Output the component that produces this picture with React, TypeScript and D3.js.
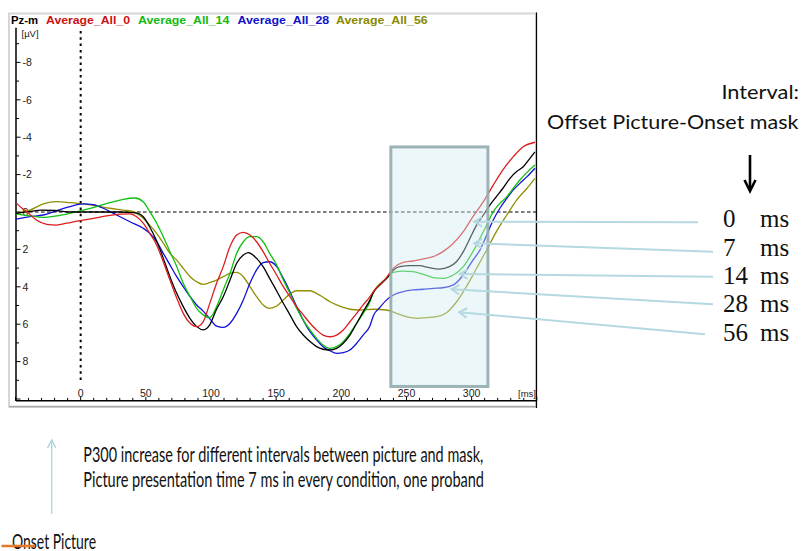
import React from "react";
import * as d3 from "d3";

// ---------- data ----------
const xDomain: [number, number] = [-50, 350];
const yDomain: [number, number] = [-10, 10];
const xTickLabels = [0, 50, 100, 150, 200, 250, 300];
const xMinorTicks = d3.range(-50, 351, 10);
const yTickLabels = [-8, -6, -4, -2, 0, 2, 4, 6, 8];
const yMinorTicks = d3.range(-9, 11, 1);
const channelName = "Pz-m";
const legendNames = ["Average_All_0", "Average_All_14", "Average_All_28", "Average_All_56"];
const legendColors = ["#cc1111", "#11bb11", "#1111cc", "#8a8a00"];

// [time ms, amplitude µV]
const seriesRed: [number, number][] = [
  [-49, -0.45], [-45, -0.2], [-41, 0], [-34, 0.43], [-26, 0.66], [-18.4, 0.7], [-10.7, 0.6], [-0.5, 0.46],
  [9.7, 0.34], [20, 0.21], [30, 0.11], [37.8, 0.1], [43, 0.25], [48, 0.6], [53, 1.14], [58.3, 1.76],
  [63.4, 2.66], [68.5, 3.64], [73.7, 4.6], [78.7, 5.42], [84, 5.95], [89, 6.13], [94, 5.87], [99, 4.9],
  [104.3, 3.81], [109.4, 2.92], [114.6, 1.85], [119.7, 1.23], [124.8, 1.09], [129.9, 1.23], [135, 1.59],
  [140, 2.12], [145, 2.74], [150.4, 3.37], [155.5, 3.99], [160.6, 4.53], [165.7, 5.06], [170.8, 5.5],
  [176, 5.95], [181, 6.31], [186, 6.58], [191.3, 6.67], [196.4, 6.58], [201.5, 6.31], [206.6, 5.87],
  [211.8, 5.42], [216.8, 4.97], [222, 4.53], [224.6, 4.26], [234.8, 3.5], [240, 3.0], [247.5, 2.69],
  [255, 2.62], [263, 2.51], [270.5, 2.39], [278, 2.12], [286, 1.67], [293.6, 1.05], [301, 0.25],
  [309, -0.55], [316.6, -1.44], [324, -2.25], [332, -2.96], [339.6, -3.49], [348.6, -3.73],
];
const seriesBlack: [number, number][] = [
  [-50, 0.07], [-40, -0.02], [-30, -0.1], [-20, -0.08], [-10, 0], [0, 0], [10, 0], [20, 0], [30, 0],
  [40, 0.03], [45, 0.1], [48, 0.25], [53, 0.8], [58, 1.5], [63, 2.4], [68.5, 3.46], [73.7, 4.35],
  [78.7, 5.06], [84, 5.7], [89, 6.13], [94.5, 6.3], [99, 6.04], [104, 5.24], [109.4, 4.53], [114.6, 3.64],
  [119.7, 2.74], [124.8, 2.3], [128.6, 2.17], [135, 2.48], [140, 2.92], [145, 3.55], [150, 4.17],
  [155.5, 4.88], [160.6, 5.5], [165.7, 6.13], [170.8, 6.58], [176, 6.93], [181, 7.2], [186, 7.34],
  [191, 7.38], [196.4, 7.29], [201.5, 7.02], [206.6, 6.58], [211.8, 5.95], [216.8, 5.33], [222, 4.7],
  [224.6, 4.3], [229.6, 3.9], [234.8, 3.55], [240, 3.1], [245, 2.92], [252.7, 2.87], [260, 2.87],
  [267.6, 2.98], [275.3, 3.05], [283, 2.92], [288.5, 2.65], [293.6, 2.12], [298.7, 1.41], [303.8, 0.7],
  [309, 0.16], [314, -0.37], [319, -0.82], [324, -1.27], [329.4, -1.8], [334.5, -2.16], [339.6, -2.42],
  [344.7, -2.87], [348.6, -3.22],
];
const seriesGreen: [number, number][] = [
  [-50, 0.1], [-39, 0.21], [-28.7, 0.29], [-18.4, 0.21], [-8.2, 0.07], [2, -0.1], [12.3, -0.29],
  [22.5, -0.5], [32.7, -0.68], [41.7, -0.75], [48, -0.55], [53, -0.02], [58.3, 0.6], [63.4, 1.32],
  [68.5, 2.12], [73.7, 2.92], [78.7, 3.81], [84, 4.53], [89, 5.15], [94, 5.5], [99, 5.65], [104.3, 5.06],
  [109.4, 4.17], [114.6, 3.28], [119.7, 2.21], [124.8, 1.59], [129.9, 1.32], [135, 1.32], [140, 1.59],
  [145, 2.21], [150.4, 2.83], [155.5, 3.64], [160.6, 4.35], [165.7, 5.15], [170.8, 5.78], [176, 6.31],
  [181, 6.76], [186, 7.11], [191.3, 7.29], [196.4, 7.2], [201.5, 6.93], [206.6, 6.49], [211.8, 5.95],
  [216.8, 5.42], [222, 4.8], [224.6, 4.3], [234.8, 3.55], [240, 3.23], [247.5, 3.16], [255, 3.19],
  [263, 3.33], [270.5, 3.51], [278, 3.55], [286, 3.37], [293.6, 2.92], [301, 2.12], [306.4, 1.41],
  [311.5, 0.7], [316.6, -0.02], [321.7, -0.46], [327, -0.82], [332, -1.27], [337, -1.71], [342.5, -2.12],
  [348.6, -2.51],
];
const seriesBlue: [number, number][] = [
  [-50, 0.39], [-39, 0.25], [-28.7, 0.16], [-18.4, -0.07], [-8.2, -0.29], [2, -0.43], [9.7, -0.39],
  [17.4, -0.2], [27.6, 0.16], [37.8, 0.52], [48, 0.87], [53, 1.14], [58.3, 1.59], [63.4, 2.21],
  [68.5, 2.83], [73.7, 3.46], [78.7, 3.99], [84, 4.53], [89, 4.97], [94, 5.3], [99, 5.7], [104.3, 6.1],
  [109.4, 6.17], [114.6, 5.95], [119.7, 5.42], [124.8, 4.7], [129.9, 3.81], [135, 3.1], [140, 2.71],
  [145, 2.66], [150.4, 2.92], [155.5, 3.55], [160.6, 4.26], [165.7, 5.06], [170.8, 5.78], [176, 6.4],
  [181, 6.84], [186, 7.2], [191.3, 7.42], [196.4, 7.56], [201.5, 7.52], [206.6, 7.38], [211.8, 7.02],
  [216.8, 6.58], [222, 6.08], [224.6, 5.55], [229.6, 5.1], [234.8, 4.7], [240, 4.44], [247.5, 4.26],
  [255, 4.17], [263, 4.13], [270.5, 4.08], [278, 4.05], [286, 3.9], [293.6, 3.37], [301, 2.57],
  [306.4, 2.03], [311.5, 1.23], [316.6, 0.43], [321.7, -0.2], [327, -0.73], [332, -1.18], [337, -1.53],
  [342.5, -1.89], [348.6, -2.34],
];
const seriesOlive: [number, number][] = [
  [-50, 0.07], [-39, -0.1], [-28.7, -0.43], [-18.4, -0.55], [-8.2, -0.5], [2, -0.43], [12.3, -0.32],
  [22.5, -0.2], [32.7, -0.1], [40.4, -0.02], [48, 0.34], [53, 0.7], [58.3, 1.14], [63.4, 1.67],
  [68.5, 2.21], [73.7, 2.57], [78.7, 3.01], [84, 3.46], [89, 3.73], [94, 3.87], [98.7, 3.78],
  [104.3, 3.64], [109.4, 3.46], [114.6, 3.28], [119.7, 3.23], [124.8, 3.46], [129.9, 3.99], [135, 4.53],
  [140, 4.97], [145, 5.15], [150.4, 5.03], [155.5, 4.7], [160.6, 4.38], [165.7, 4.21], [176, 4.21],
  [181, 4.35], [186, 4.56], [191.3, 4.8], [196.4, 4.97], [201.5, 5.1], [206.6, 5.2], [214, 5.24],
  [224.6, 5.2], [234.8, 5.24], [242.5, 5.42], [250, 5.6], [257.8, 5.69], [265.5, 5.65], [273, 5.6],
  [281, 5.37], [288.5, 4.8], [296, 3.99], [303.8, 3.01], [311.5, 2.03], [319, 1.05], [327, 0.16],
  [334.5, -0.64], [342.5, -1.27], [348.6, -1.8],
];

const highlightMs: [number, number] = [238, 312.5];
const highlightUv: [number, number] = [-3.48, 9.33];
const intervalLabels = ["0", "7", "14", "28", "56"];
const arrowTips: [number, number][] = [[302, 0.52], [302, 1.67], [291, 3.32], [284.7, 4.13], [290.5, 5.36]];
const arrowEnds: [number, number][] = [[698, 222.3], [713, 251.7], [713, 276.7], [713, 304.3], [705, 334.3]];
const labelBaselines = [227, 255.5, 283.5, 311.5, 341];

const noteLine1 = "P300 increase for different intervals between picture and mask,";
const noteLine2 = "Picture presentation time 7 ms in every condition, one proband";

export default function App() {
  const x = d3.scaleLinear().domain(xDomain).range([15.5, 536.8]);
  const y = d3.scaleLinear().domain(yDomain).range([25, 399]);
  const line = d3
    .line<[number, number]>()
    .x((d) => x(d[0]))
    .y((d) => y(d[1]))
    .curve(d3.curveMonotoneX);

  const curves: { data: [number, number][]; color: string }[] = [
    { data: seriesOlive, color: "#8f8f00" },
    { data: seriesBlue, color: "#1010d8" },
    { data: seriesGreen, color: "#10c010" },
    { data: seriesBlack, color: "#000000" },
    { data: seriesRed, color: "#dd1c1c" },
  ];

  const axisFont = "'Liberation Sans', Arial, sans-serif";
  const slideFont = "Lato, 'Open Sans', sans-serif";
  const legendX = [46, 138, 237.5, 336];
  const legendW = [84, 91.3, 91.7, 91.7];
  const annColor = "#b5d9e0";

  const chevron = (tx: number, ty: number, fx: number, fy: number, len: number, spread: number) => {
    const ang = Math.atan2(fy - ty, fx - tx);
    const a1 = ang + spread;
    const a2 = ang - spread;
    return `M${tx + len * Math.cos(a1)},${ty + len * Math.sin(a1)}L${tx},${ty}L${tx + len * Math.cos(a2)},${ty + len * Math.sin(a2)}`;
  };

  const rx0 = x(highlightMs[0]);
  const rx1 = x(highlightMs[1]);
  const ry0 = y(highlightUv[0]);
  const ry1 = y(highlightUv[1]);

  return (
    <svg
      width={805}
      height={551}
      style={{ position: "absolute", left: 0, top: 0, background: "#fff" }}
    >
      <defs>
        <pattern id="chk" width="2" height="2" patternUnits="userSpaceOnUse">
          <rect width="2" height="2" fill="#dff1f4" />
          <rect width="1" height="1" fill="#bfe2e8" />
          <rect x="1" y="1" width="1" height="1" fill="#cbe8ec" />
        </pattern>
        <clipPath id="plotClip">
          <rect x={16} y={26} width={520} height={375} />
        </clipPath>
      </defs>

      {/* frame */}
      <rect x={9} y={13.5} width={527} height={393} fill="#fff" stroke="#d6d6d6" strokeWidth={2} />
      <line x1={9} x2={536} y1={406.8} y2={406.8} stroke="#a9a9a9" strokeWidth={1.5} />
      <line x1={536.5} x2={536.5} y1={12.5} y2={408} stroke="#000" strokeWidth={1.2} />

      {/* title */}
      <text x={11} y={23.5} fontFamily={axisFont} fontWeight="bold" fontSize={11.5} fill="#000" textLength={27} lengthAdjust="spacingAndGlyphs">
        {channelName}
      </text>
      {legendNames.map((n, i) => (
        <text key={n} x={legendX[i]} y={23.5} fontFamily={axisFont} fontWeight="bold" fontSize={11.5} fill={legendColors[i]} textLength={legendW[i]} lengthAdjust="spacingAndGlyphs">
          {n}
        </text>
      ))}

      {/* axes */}
      <line x1={16} x2={16} y1={y(-9.85)} y2={y(10.1)} stroke="#000" strokeWidth={1.5} />
      <line x1={16} x2={536} y1={y(10.1)} y2={y(10.1)} stroke="#000" strokeWidth={1.5} />
      {yMinorTicks.map((v) => (
        <line key={"ym" + v} x1={16} x2={v % 2 === 0 ? 20.5 : 19} y1={y(v)} y2={y(v)} stroke="#000" strokeWidth={1} />
      ))}
      {yTickLabels.map((v) => (
        <text key={"yl" + v} x={22.5} y={y(v) + 3.8} fontFamily={axisFont} fontSize={10.5} fill="#222">
          {v}
        </text>
      ))}
      <text x={21.5} y={37} fontFamily={axisFont} fontSize={9.5} fill="#222">
        [µV]
      </text>
      {xMinorTicks.map((v) => (
        <line key={"xm" + v} x1={x(v)} x2={x(v)} y1={y(10.1)} y2={y(10.1) - (v % 50 === 0 ? 4 : 3)} stroke="#000" strokeWidth={1} />
      ))}
      {xTickLabels.map((v) => (
        <text key={"xl" + v} x={x(v)} y={396.5} textAnchor="middle" fontFamily={axisFont} fontSize={10.5} fill="#222">
          {v}
        </text>
      ))}
      <text x={518} y={396.5} fontFamily={axisFont} fontSize={9.5} fill="#222">
        [ms]
      </text>

      {/* reference lines */}
      <line x1={x(0)} x2={x(0)} y1={31} y2={383} stroke="#000" strokeWidth={2} strokeDasharray="2.5,3.8" />
      <line x1={29} x2={536} y1={y(0)} y2={y(0)} stroke="#000" strokeWidth={1.1} strokeDasharray="3.6,2.4" />

      {/* curves */}
      <g clipPath="url(#plotClip)">
        {curves.map((c, i) => (
          <path key={i} d={line(c.data) || ""} fill="none" stroke={c.color} strokeWidth={1.3} strokeLinejoin="round" />
        ))}
      </g>

      {/* highlight window */}
      <rect x={rx0} y={ry0} width={rx1 - rx0} height={ry1 - ry0} fill="url(#chk)" fillOpacity={0.42} stroke="#94abae" strokeWidth={3} strokeOpacity={0.9} />

      {/* annotation arrows */}
      {arrowTips.map((t, i) => {
        const tx = x(t[0]);
        const ty = y(t[1]);
        const [ex, ey] = arrowEnds[i];
        return (
          <g key={"arr" + i} stroke={annColor} strokeWidth={2} fill="none">
            <line x1={tx} y1={ty} x2={ex} y2={ey} />
            <path d={chevron(tx, ty, ex, ey, 9, 0.55)} />
          </g>
        );
      })}

      {/* right side labels */}
      <text x={799} y={98.5} textAnchor="end" fontFamily={slideFont} fontSize={20} fill="#111" textLength={77.6} lengthAdjust="spacingAndGlyphs">
        Interval:
      </text>
      <text x={547} y={128.5} fontFamily={slideFont} fontSize={20} fill="#111" textLength={251.5} lengthAdjust="spacingAndGlyphs">
        Offset Picture-Onset mask
      </text>
      <g stroke="#000" strokeWidth={2.6} fill="none">
        <line x1={750} x2={750} y1={155} y2={190} />
        <path d="M744.5,180 L750,191 L755.5,180" />
      </g>
      {intervalLabels.map((l, i) => (
        <g key={"il" + i} fontFamily="'Liberation Serif', 'DejaVu Serif', serif" fontSize={25} fill="#111">
          <text x={723} y={labelBaselines[i]}>{l}</text>
          <text x={760} y={labelBaselines[i]}>ms</text>
        </g>
      ))}

      {/* bottom notes */}
      <g stroke="#a9d5dd" strokeWidth={1.3} fill="none">
        <line x1={51.7} x2={51.7} y1={514} y2={440} />
        <path d="M47.5,448 L51.7,440 L55.9,448" />
      </g>
      <text x={83.3} y={462} fontFamily={slideFont} fontSize={21} fill="#111" textLength={400} lengthAdjust="spacingAndGlyphs">
        {noteLine1}
      </text>
      <text x={83.3} y={487} fontFamily={slideFont} fontSize={21} fill="#111" textLength={400.7} lengthAdjust="spacingAndGlyphs">
        {noteLine2}
      </text>
      <text x={12} y={548.5} fontFamily={slideFont} fontSize={21} fill="#111" textLength={84} lengthAdjust="spacingAndGlyphs">
        Onset Picture
      </text>
      <line x1={1.5} x2={35} y1={546} y2={546} stroke="#e6782a" strokeWidth={2.4} />
    </svg>
  );
}
